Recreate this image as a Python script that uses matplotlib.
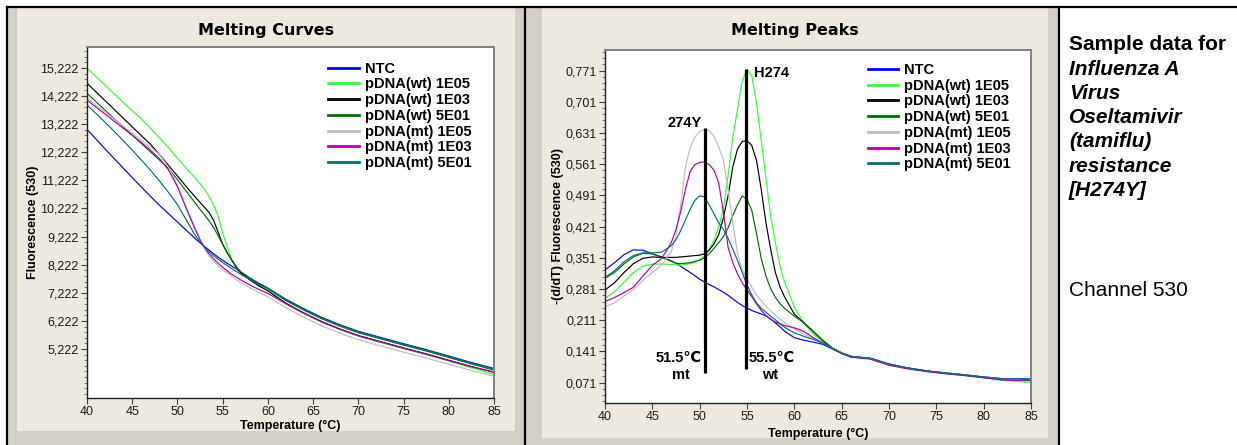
import matplotlib
matplotlib.use("Agg")
import matplotlib.pyplot as plt
from matplotlib.patches import Rectangle
from matplotlib.lines import Line2D
from matplotlib.ticker import FixedLocator, AutoMinorLocator

W, H = 1237, 445

# ---------------- data: melting curves (fluorescence) ----------------
temp_curve = [40, 41, 42, 43, 44, 45, 46, 47, 48, 49, 50, 51, 52,
              52.5, 53, 53.5, 54, 54.5, 55, 55.5, 56, 56.5, 57,
              58, 59, 60, 62, 64, 66, 68, 70, 72.5, 75, 77.5, 80, 82.5, 85]

curve_ntc = [13040, 12690, 12340, 12000, 11660, 11320, 10990, 10660, 10340, 10040, 9740, 9440, 9140,
             9000, 8870, 8740, 8610, 8490, 8380, 8270, 8170, 8070, 7960,
             7750, 7560, 7390, 6990, 6650, 6340, 6080, 5850, 5630, 5410, 5200, 4970, 4740, 4530]
curve_wt_1e05 = [15215, 14910, 14610, 14300, 14000, 13700, 13410, 13080, 12740, 12390, 12010, 11650, 11280,
                 11100, 10900, 10650, 10350, 9950, 9350, 8850, 8420, 8100, 7920,
                 7680, 7480, 7310, 6830, 6480, 6170, 5910, 5680, 5450, 5230, 5020, 4790, 4550, 4310]
curve_wt_1e03 = [14680, 14370, 14060, 13750, 13440, 13130, 12820, 12510, 12150, 11760, 11380, 10990, 10620,
                 10440, 10260, 10080, 9800, 9380, 8950, 8650, 8380, 8130, 7930,
                 7680, 7470, 7290, 6850, 6500, 6190, 5930, 5700, 5480, 5260, 5050, 4820, 4600, 4390]
curve_wt_5e01 = [14322, 14020, 13720, 13420, 13130, 12830, 12540, 12240, 11950, 11650, 11250, 10820, 10400,
                 10190, 9990, 9780, 9550, 9250, 8950, 8650, 8390, 8160, 7970,
                 7730, 7530, 7370, 6940, 6600, 6290, 6030, 5800, 5580, 5360, 5150, 4920, 4690, 4470]
curve_mt_1e05 = [14150, 13900, 13650, 13400, 13150, 12900, 12650, 12400, 12150, 11700, 11050, 10250, 9500,
                 9150, 8800, 8530, 8340, 8180, 8040, 7920, 7800, 7690, 7590,
                 7400, 7230, 7080, 6690, 6350, 6040, 5780, 5550, 5330, 5110, 4900, 4680, 4460, 4250]
curve_mt_1e03 = [14080, 13830, 13580, 13330, 13080, 12830, 12570, 12300, 12000, 11600, 11000, 10200, 9450,
                 9100, 8830, 8610, 8430, 8270, 8130, 8000, 7880, 7780, 7680,
                 7500, 7340, 7200, 6830, 6490, 6180, 5920, 5690, 5470, 5250, 5040, 4810, 4590, 4400]
curve_mt_5e01 = [13905, 13600, 13290, 12970, 12640, 12300, 11950, 11590, 11210, 10800, 10360, 9800, 9250,
                 9020, 8840, 8680, 8540, 8420, 8300, 8190, 8080, 7980, 7880,
                 7690, 7520, 7380, 6970, 6630, 6320, 6060, 5830, 5610, 5390, 5180, 4950, 4720, 4510]

# ---------------- data: melting peaks (-d/dT) ----------------
temp_peak = [40, 41, 42, 43, 44, 45, 46, 47,
             47.5, 48, 48.5, 49, 49.5, 50, 50.5, 51, 51.5, 52, 52.5, 53, 53.5, 54,
             54.5, 55, 55.5, 56, 56.5, 57, 57.5, 58, 58.5, 59,
             60, 61, 62, 63, 64, 65, 66, 67, 68,
             70, 72, 74, 76, 78, 80, 82, 84, 85]

peak_ntc = [0.324, 0.340, 0.358, 0.369, 0.368, 0.360, 0.353, 0.344,
            0.339, 0.332, 0.325, 0.318, 0.311, 0.303, 0.297, 0.291, 0.286, 0.280, 0.274, 0.267, 0.259, 0.251,
            0.244, 0.238, 0.233, 0.229, 0.225, 0.221, 0.214, 0.205, 0.196, 0.186,
            0.172, 0.166, 0.162, 0.157, 0.147, 0.137, 0.129, 0.127, 0.126,
            0.113, 0.104, 0.097, 0.093, 0.089, 0.084, 0.080, 0.080, 0.079]
peak_wt_1e05 = [0.260, 0.275, 0.296, 0.318, 0.332, 0.337, 0.337, 0.336,
                0.335, 0.335, 0.336, 0.338, 0.341, 0.346, 0.356, 0.370, 0.389, 0.420, 0.460, 0.535, 0.620, 0.685,
                0.748, 0.773, 0.760, 0.700, 0.615, 0.530, 0.445, 0.385, 0.331, 0.295,
                0.240, 0.205, 0.180, 0.163, 0.149, 0.138, 0.130, 0.127, 0.125,
                0.111, 0.103, 0.096, 0.091, 0.087, 0.082, 0.076, 0.073, 0.072]
peak_wt_1e03 = [0.279, 0.295, 0.318, 0.338, 0.350, 0.353, 0.352, 0.352,
                0.352, 0.353, 0.354, 0.355, 0.356, 0.357, 0.360, 0.368, 0.382, 0.402, 0.440, 0.490, 0.555, 0.595,
                0.612, 0.614, 0.603, 0.570, 0.505, 0.430, 0.370, 0.318, 0.285, 0.262,
                0.225, 0.205, 0.186, 0.166, 0.149, 0.137, 0.130, 0.128, 0.125,
                0.112, 0.103, 0.097, 0.092, 0.088, 0.083, 0.078, 0.077, 0.076]
peak_wt_5e01 = [0.305, 0.318, 0.337, 0.353, 0.361, 0.360, 0.352, 0.343,
                0.339, 0.338, 0.339, 0.340, 0.343, 0.346, 0.351, 0.360, 0.372, 0.385, 0.398, 0.418, 0.446, 0.470,
                0.490, 0.482, 0.458, 0.406, 0.350, 0.310, 0.282, 0.262, 0.248, 0.237,
                0.220, 0.206, 0.185, 0.166, 0.149, 0.138, 0.130, 0.127, 0.126,
                0.112, 0.104, 0.097, 0.092, 0.088, 0.083, 0.079, 0.078, 0.077]
peak_mt_1e05 = [0.241, 0.250, 0.265, 0.280, 0.300, 0.318, 0.335, 0.365,
                0.400, 0.470, 0.555, 0.598, 0.622, 0.634, 0.639, 0.636, 0.624, 0.600, 0.571, 0.505, 0.430, 0.360,
                0.325, 0.305, 0.285, 0.268, 0.255, 0.243, 0.232, 0.222, 0.213, 0.205,
                0.192, 0.180, 0.170, 0.160, 0.148, 0.137, 0.129, 0.127, 0.125,
                0.111, 0.103, 0.097, 0.092, 0.088, 0.083, 0.079, 0.078, 0.077]
peak_mt_1e03 = [0.253, 0.262, 0.273, 0.285, 0.310, 0.334, 0.350, 0.385,
                0.415, 0.455, 0.505, 0.545, 0.560, 0.565, 0.566, 0.560, 0.548, 0.520, 0.455, 0.375, 0.340, 0.315,
                0.295, 0.279, 0.264, 0.248, 0.233, 0.222, 0.213, 0.207, 0.203, 0.199,
                0.194, 0.186, 0.172, 0.160, 0.147, 0.136, 0.128, 0.126, 0.124,
                0.110, 0.102, 0.096, 0.091, 0.087, 0.082, 0.077, 0.076, 0.076]
peak_mt_5e01 = [0.307, 0.322, 0.342, 0.356, 0.362, 0.362, 0.364, 0.378,
                0.392, 0.412, 0.436, 0.460, 0.480, 0.490, 0.488, 0.470, 0.450, 0.430, 0.415, 0.395, 0.370, 0.345,
                0.318, 0.290, 0.268, 0.250, 0.238, 0.229, 0.220, 0.212, 0.203, 0.195,
                0.183, 0.175, 0.168, 0.160, 0.148, 0.137, 0.130, 0.128, 0.126,
                0.113, 0.104, 0.098, 0.093, 0.088, 0.084, 0.080, 0.079, 0.078]

labels = ["NTC", "pDNA(wt) 1E05", "pDNA(wt) 1E03", "pDNA(wt) 5E01",
          "pDNA(mt) 1E05", "pDNA(mt) 1E03", "pDNA(mt) 5E01"]
colors = ["#0000ff", "#33ff33", "#000000", "#007000", "#bdbdbd", "#b000b0", "#007070"]

curve_series = [curve_ntc, curve_wt_1e05, curve_wt_1e03, curve_wt_5e01,
                curve_mt_1e05, curve_mt_1e03, curve_mt_5e01]
peak_series = [peak_ntc, peak_wt_1e05, peak_wt_1e03, peak_wt_5e01,
               peak_mt_1e05, peak_mt_1e03, peak_mt_5e01]

curve_yticks = [5222, 6222, 7222, 8222, 9222, 10222, 11222, 12222, 13222, 14222, 15222]
peak_yticks = [0.071, 0.141, 0.211, 0.281, 0.351, 0.421, 0.491, 0.561, 0.631, 0.701, 0.771]
xticks = [40, 45, 50, 55, 60, 65, 70, 75, 80, 85]

# peak marker lines: (temperature, bottom, top)
mt_marker = (50.6, 0.093, 0.643)
wt_marker = (54.9, 0.102, 0.775)

BEIGE = "#ede9df"
GREY = "#d4d0c8"
SANS = ["Liberation Sans", "DejaVu Sans"]

plt.rcParams["font.family"] = SANS


def fx(px):
    return px / W


def fy(py):
    return 1 - py / H


def rect(fig, x0, y0, x1, y1, color):
    fig.add_artist(Rectangle((fx(x0), fy(y1)), (x1 - x0) / W, (y1 - y0) / H,
                             transform=fig.transFigure, facecolor=color,
                             edgecolor="none", zorder=-2))


def vline(fig, x, y0, y1):
    fig.add_artist(Line2D([fx(x), fx(x)], [fy(y0), fy(y1)], transform=fig.transFigure,
                          color="black", lw=1.6, zorder=5))


def hline(fig, y, x0, x1):
    fig.add_artist(Line2D([fx(x0), fx(x1)], [fy(y), fy(y)], transform=fig.transFigure,
                          color="black", lw=1.6, zorder=5))


def style_axes(ax, yticks, ylabels, ylim, ylabel):
    ax.set_xlim(40, 85)
    ax.set_ylim(*ylim)
    ax.xaxis.set_major_locator(FixedLocator(xticks))
    ax.set_xticklabels([str(t) for t in xticks])
    ax.yaxis.set_major_locator(FixedLocator(yticks))
    ax.set_yticklabels(ylabels)
    ax.yaxis.set_minor_locator(AutoMinorLocator(5))
    ax.tick_params(axis="both", which="major", direction="out", length=4, width=0.8,
                   color="#404040", labelsize=9.0, labelcolor="#1a1a1a", pad=2)
    ax.tick_params(axis="y", which="minor", direction="out", length=2, width=0.6, color="#606060")
    for s in ["left", "bottom"]:
        ax.spines[s].set_color("#202020")
        ax.spines[s].set_linewidth(1.0)
    for s in ["top", "right"]:
        ax.spines[s].set_color("#808080")
        ax.spines[s].set_linewidth(1.4)
    ax.set_xlabel("Temperature (°C)", fontsize=9, fontweight="bold", labelpad=1)
    ax.set_ylabel(ylabel, fontsize=9, fontweight="bold", labelpad=3)
    ax.set_facecolor("white")


fig = plt.figure(figsize=(W / 100, H / 100), dpi=100, facecolor="white")

# window panels
rect(fig, 8, 8, 525, 445, GREY)
rect(fig, 17, 8, 515, 431, BEIGE)
rect(fig, 526, 8, 1059, 445, GREY)
rect(fig, 542, 8, 1048, 438, BEIGE)
hline(fig, 7, 7, 1237)
vline(fig, 7, 7, 445)
vline(fig, 525, 7, 445)
vline(fig, 1059, 7, 445)

# ---- left: melting curves ----
ax1 = fig.add_axes([fx(87), fy(398), (494 - 87) / W, (398 - 47) / H])
for vals, c in zip(curve_series, colors):
    ax1.plot(temp_curve, vals, color=c, lw=0.85)
style_axes(ax1, curve_yticks, [f"{v:,}" for v in curve_yticks], (3478, 15969),
           "Fluorescence (530)")
ax1.yaxis.set_label_coords(-0.117, 0.5)
ax1.xaxis.set_label_coords(0.5, -0.063)
handles = [Line2D([], [], color=c, lw=2) for c in colors]
ax1.legend(handles, labels, loc="upper left", bbox_to_anchor=(0.578, 0.975), frameon=False,
           prop={"family": SANS, "weight": "bold", "size": 10.5},
           handlelength=2.1, handletextpad=0.4, labelspacing=0.12, borderaxespad=0)
fig.text(fx(266), fy(30), "Melting Curves", ha="center", va="center",
         fontsize=11.5, fontweight="bold", family="DejaVu Sans")

# ---- right: melting peaks ----
ax2 = fig.add_axes([fx(605), fy(403), (1031 - 605) / W, (403 - 50) / H])
for vals, c in zip(peak_series, colors):
    ax2.plot(temp_peak, vals, color=c, lw=0.85)
style_axes(ax2, peak_yticks, [f"{v:.3f}".replace(".", ",") for v in peak_yticks],
           (0.0255, 0.817), "-(d/dT) Fluorescence (530)")
ax2.yaxis.set_label_coords(-0.097, 0.5)
ax2.xaxis.set_label_coords(0.5, -0.07)
ax2.vlines([mt_marker[0], wt_marker[0]], [mt_marker[1], wt_marker[1]],
           [mt_marker[2], wt_marker[2]], color="black", lw=2.3, zorder=5)
txt = dict(fontsize=10.5, fontweight="bold", family=SANS, va="center", zorder=6)
ax2.text(48.45, 0.654, "274Y", ha="center", **txt)
ax2.text(55.7, 0.766, "H274", ha="left", **txt)
ax2.text(47.8, 0.126, "51.5℃", ha="center", **txt)
ax2.text(48.0, 0.088, "mt", ha="center", **txt)
ax2.text(55.15, 0.126, "55.5℃", ha="left", **txt)
ax2.text(57.4, 0.088, "wt", ha="center", **txt)
ax2.legend(handles, labels, loc="upper left", bbox_to_anchor=(0.603, 0.98), frameon=False,
           prop={"family": SANS, "weight": "bold", "size": 10.5},
           handlelength=2.1, handletextpad=0.4, labelspacing=0.12, borderaxespad=0)
fig.text(fx(795), fy(31), "Melting Peaks", ha="center", va="center",
         fontsize=11.5, fontweight="bold", family="DejaVu Sans")

# ---- info text ----
info = [("Sample data for", "normal"), ("Influenza A", "italic"), ("Virus", "italic"),
        ("Oseltamivir", "italic"), ("(tamiflu)", "italic"), ("resistance", "italic"),
        ("[H274Y]", "italic")]
for i, (line, style) in enumerate(info):
    fig.text(fx(1069), fy(45 + i * 24.2), line, ha="left", va="center", fontsize=15,
             fontweight="bold", fontstyle=style, family=SANS)
fig.text(fx(1069), fy(290), "Channel 530", ha="left", va="center", fontsize=15, family=SANS)

fig.savefig("out.png", dpi=100, facecolor="white")
